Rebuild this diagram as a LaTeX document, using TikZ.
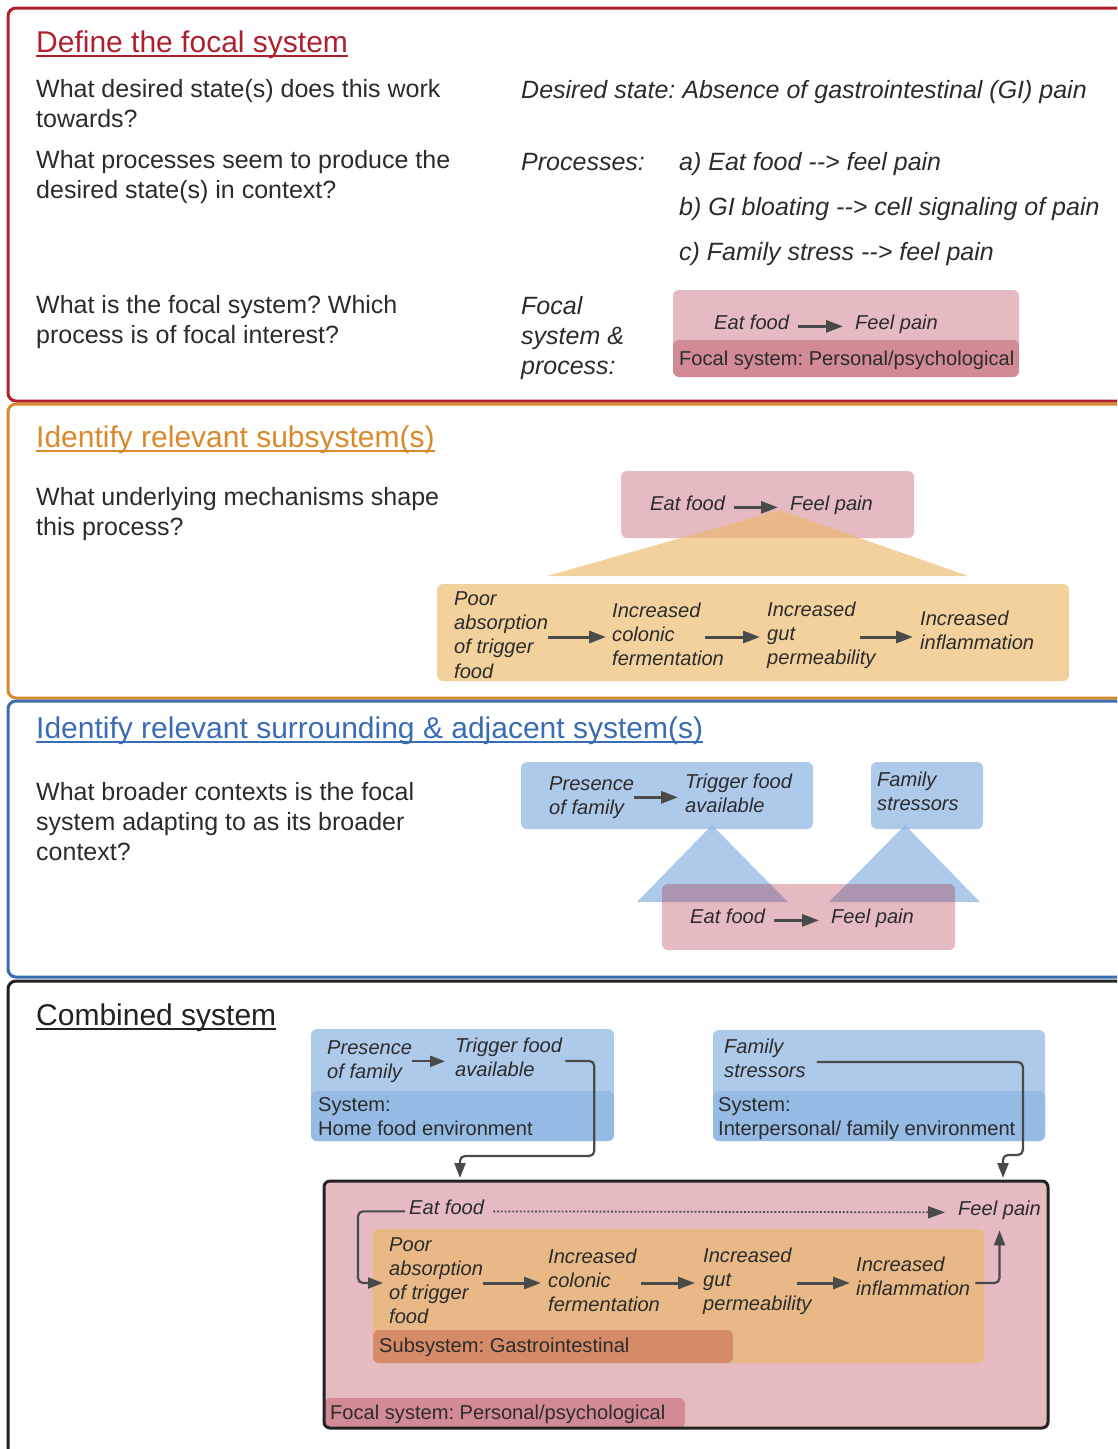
\documentclass[tikz,border=0pt]{standalone}
\usepackage{fontspec}
\setmainfont{Liberation Sans}
\frenchspacing
\usetikzlibrary{positioning,arrows.meta,calc}
\definecolor{secred}{RGB}{176,31,46}
\definecolor{secorange}{RGB}{217,137,43}
\definecolor{secblue}{RGB}{58,108,180}
\definecolor{secblack}{RGB}{34,34,34}
\definecolor{ink}{RGB}{43,43,43}
\definecolor{arrgray}{RGB}{74,74,74}
\definecolor{pinkbase}{RGB}{168,28,48}
\definecolor{orangebase}{RGB}{235,185,103}
\definecolor{bluebase}{RGB}{139,179,225}
\definecolor{subband}{RGB}{214,139,104}

\begin{document}
\begin{tikzpicture}[x=1pt,y=-1pt,
	sect/.style={line width=3pt,rounded corners=8pt},
	hd/.style={anchor=base west,inner sep=0pt,font=\fontsize{30}{36}\selectfont},
	uline/.style={line width=1.5pt},
	qtxt/.style={anchor=base west,inner sep=0pt,align=left,text=ink,font=\fontsize{25}{30}\selectfont},
	atxt/.style={qtxt,font=\fontsize{25}{30}\selectfont\itshape},
	dtxt/.style={anchor=base west,inner sep=0pt,align=left,text=ink,font=\fontsize{20.1}{24.3}\selectfont\itshape},
	stxt/.style={dtxt,font=\fontsize{20.1}{24.3}\selectfont},
	pinkbox/.style={fill=pinkbase,fill opacity=0.3,rounded corners=6pt},
	orangebox/.style={fill=orangebase,fill opacity=0.65,rounded corners=6pt},
	bluebox/.style={fill=bluebase,fill opacity=0.7,rounded corners=6pt},
	flow/.style={-{Triangle[length=17pt,width=12pt]},line width=3pt,draw=arrgray,shorten >=6pt},
	gap/.style={shorten <=9pt,shorten >=12pt},
	dotflow/.style={-{Triangle[length=17pt,width=12pt]},line width=1.8pt,draw=arrgray,dotted,shorten <=9pt,shorten >=13pt},
	link/.style={-{Triangle[length=15pt,width=11pt]},line width=2.2pt,draw=arrgray,rounded corners=5pt}]
	\useasboundingbox (0,0) rectangle (1117,1449);
	\clip (0,0) rectangle (1117,1449);

	% define the focal system
	\draw[sect,secred] (8,8) rectangle (1160,401);
	\node[hd,text=secred] (t1) at (36,52) {Define the focal system};
	\draw[uline,secred] ([yshift=-4pt]t1.base west) -- ([yshift=-4pt]t1.base east);
	\node[qtxt] (q1) at (36,127) {What desired state(s) does this work\\towards?};
	\node[qtxt] (q2) at (36,198) {What processes seem to produce the\\desired state(s) in context?};
	\node[qtxt] (q3) at (36,343) {What is the focal system? Which\\process is of focal interest?};
	\node[atxt] (a1) at (521,98) {Desired state: Absence of gastrointestinal (GI) pain};
	\node[atxt] (a2) at (521,170) {Processes:};
	\node[atxt] (pa) at (679,170) {a) Eat food -\kern0pt-> feel pain};
	\node[atxt] (pb) at (679,215) {b) GI bloating -\kern0pt-> cell signaling of pain};
	\node[atxt] (pc) at (679,260) {c) Family stress -\kern0pt-> feel pain};
	\node[atxt] (a3) at (521,374) {Focal\\system \&\\process:};
	\fill[pinkbox] (673,290) rectangle (1019,377);
	\fill[pinkbox] (673,340) rectangle (1019,377);
	\node[dtxt] (e1) at (714,329) {Eat food};
	\node[dtxt] (f1) at (855,329) {Feel pain};
	\draw[flow,gap] (e1.mid east) -- (f1.mid west);
	\node[stxt] (fs1) at (679,365) {Focal system: Personal/psychological};

	% subsystems
	\draw[sect,secorange] (8,404) rectangle (1160,698);
	\node[hd,text=secorange] (t2) at (36,447) {Identify relevant subsystem(s)};
	\draw[uline,secorange] ([yshift=-4pt]t2.base west) -- ([yshift=-4pt]t2.base east);
	\node[qtxt] (q4) at (36,535) {What underlying mechanisms shape\\this process?};
	\fill[pinkbox] (621,471) rectangle (914,538);
	\fill[orangebase,fill opacity=0.65] (780,510) -- (968,576) -- (547,576) -- cycle;
	\node[dtxt] (e2) at (650,510) {Eat food};
	\node[dtxt] (f2) at (790,510) {Feel pain};
	\draw[flow,gap] (e2.mid east) -- (f2.mid west);
	\fill[orangebox] (437,584) rectangle (1069,681);
	\node[dtxt] (m1) at (454,678) {Poor\\absorption\\of trigger\\food};
	\node[dtxt] (m2) at (612,665.6) {Increased\\colonic\\fermentation};
	\node[dtxt] (m3) at (767,664.6) {Increased\\gut\\permeability};
	\node[dtxt] (m4) at (920,649.3) {Increased\\inflammation};
	\coordinate (r2) at (0,637);
	\draw[flow] (m1.east |- r2) -- (m2.west |- r2);
	\draw[flow,shorten >=7pt] ($(m3.west |- r2)+(-62,0)$) -- (m3.west |- r2);
	\draw[flow,shorten >=7pt] ($(m4.west |- r2)+(-60,0)$) -- (m4.west |- r2);

	% surrounding and adjacent systems
	\draw[sect,secblue] (8,701) rectangle (1160,977);
	\node[hd,text=secblue] (t3) at (36,738) {Identify relevant surrounding \& adjacent system(s)};
	\draw[uline,secblue] ([yshift=-4pt]t3.base west) -- ([yshift=-4pt]t3.base east);
	\node[qtxt] (q5) at (36,860) {What broader contexts is the focal\\system adapting to as its broader\\context?};
	\fill[bluebox] (521,762) rectangle (813,829);
	\fill[bluebox] (871,762) rectangle (983,829);
	\fill[bluebase,fill opacity=0.7] (712,825) -- (788,902) -- (637,902) -- cycle;
	\fill[bluebase,fill opacity=0.7] (905,825) -- (980,902) -- (829,902) -- cycle;
	\fill[pinkbox] (662,884) rectangle (955,950);
	\node[dtxt] (s1) at (549,814.3) {Presence\\of family};
	\node[dtxt] (s2) at (685,812.3) {Trigger food\\available};
	\draw[flow,shorten >=7pt] (s1.east) -- (s1.east -| s2.west);
	\node[dtxt] (s3) at (877,810.3) {Family\\stressors};
	\node[dtxt] (e3) at (690,923) {Eat food};
	\node[dtxt] (f3) at (831,923) {Feel pain};
	\draw[flow,gap] (e3.mid east) -- (f3.mid west);

	% combined system
	\draw[sect,secblack] (8,981) rectangle (1160,1500);
	\node[hd,text=secblack] (t4) at (36,1025) {Combined system};
	\draw[uline,secblack] ([yshift=-4pt]t4.base west) -- ([yshift=-4pt]t4.base east);
	\fill[bluebox] (311,1029) rectangle (614,1141);
	\fill[bluebox] (311,1091) rectangle (614,1141);
	\fill[bluebox] (713,1030) rectangle (1045,1141);
	\fill[bluebox] (713,1091) rectangle (1045,1141);
	\node[dtxt] (c1) at (327,1078.3) {Presence\\of family};
	\node[dtxt] (c2) at (455,1076.3) {Trigger food\\available};
	\draw[flow,line width=2.2pt,-{Triangle[length=15pt,width=11pt]},shorten >=10pt] (c1.east) -- (c1.east -| c2.west);
	\node[stxt] (c3) at (318,1135.3) {System:\\Home food environment};
	\node[dtxt] (c4) at (724,1077.3) {Family\\stressors};
	\node[stxt] (c5) at (718,1135.3) {System:\\Interpersonal/ family environment};

	\fill[pinkbase,fill opacity=0.3,rounded corners=6pt] (324,1181) rectangle (1048,1428);
	\fill[orangebox] (373,1229) rectangle (984,1363);
	\fill[subband,rounded corners=6pt] (373,1330) rectangle (733,1363);
	\fill[pinkbox] (324,1398) rectangle (685,1428);
	\draw[line width=3pt,secblack,rounded corners=6pt] (324,1181) rectangle (1048,1428);
	\node[stxt] (g1) at (379,1352) {Subsystem: Gastrointestinal};
	\node[stxt] (fs4) at (330,1419) {Focal system: Personal/psychological};
	\node[dtxt] (eat4) at (409,1214) {Eat food};
	\node[dtxt] (pain4) at (958,1215) {Feel pain};
	\draw[dotflow] (eat4.mid east) -- (pain4.mid west);
	\node[dtxt] (n1) at (389,1323.9) {Poor\\absorption\\of trigger\\food};
	\node[dtxt] (n2) at (548,1311.6) {Increased\\colonic\\fermentation};
	\node[dtxt] (n3) at (703,1310.6) {Increased\\gut\\permeability};
	\node[dtxt] (n4) at (856,1295.3) {Increased\\inflammation};
	\coordinate (r4) at (0,1283);
	\draw[flow,shorten >=7pt] (n1.east |- r4) -- (n2.west |- r4);
	\draw[flow,shorten >=8pt] ($(n3.west |- r4)+(-62,0)$) -- (n3.west |- r4);
	\draw[flow,shorten >=6pt] ($(n4.west |- r4)+(-59,0)$) -- (n4.west |- r4);
	\draw[link] ([xshift=-4pt]eat4.mid west) -- ++(-47,0) |- ($(n1.west |- r4)+(-6,0)$);
	\draw[link] ($(n4.east |- r4)+(5,0)$) -| ([yshift=-11pt]pain4.south);

	\coordinate (ina) at (460,1178);
	\coordinate (inb) at (1003,1178);
	\draw[link] ([xshift=3pt,yshift=-4pt]c2.east) -- ++(29,0) -- ++(0,95) -| (ina);
	\draw[link] ([xshift=11pt,yshift=-4pt]c4.east) -- ++(206,0) -- ++(0,93) -| (inb);
\end{tikzpicture}
\end{document}
